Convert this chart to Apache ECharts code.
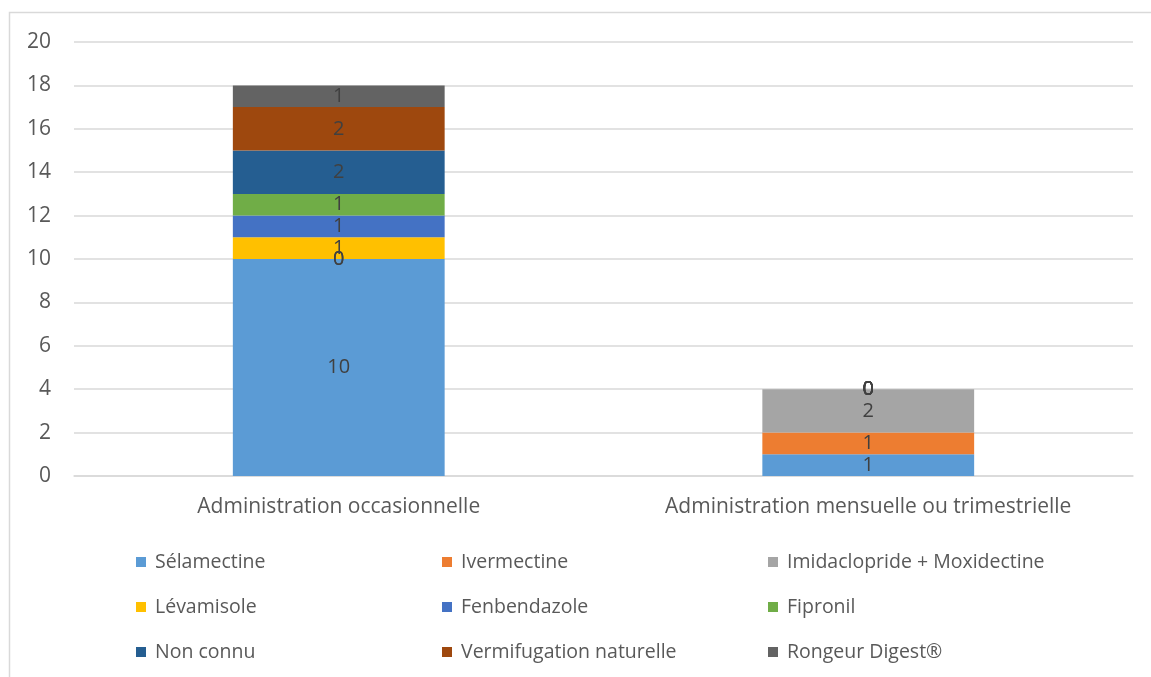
<!DOCTYPE html>
<html>
<head>
<meta charset="utf-8">
<script src="https://cdn.jsdelivr.net/npm/echarts@6/dist/echarts.min.js"></script>
<style>
  html, body { margin: 0; padding: 0; background: #ffffff; }
  #chart { width: 1151px; height: 677px; }
</style>
</head>
<body>
<div id="chart"></div>
<script>
// Categories and per-product counts (stacked bottom to top)
const categories = ['Administration occasionnelle', 'Administration mensuelle ou trimestrielle'];
const seriesNames = [
  'Sélamectine', 'Ivermectine', 'Imidaclopride + Moxidectine',
  'Lévamisole', 'Fenbendazole', 'Fipronil',
  'Non connu', 'Vermifugation naturelle', 'Rongeur Digest®'
];
const selamectine = [10, 1];
const ivermectine = [0, 1];
const imidaclopride = [0, 2];
const levamisole = [1, 0];
const fenbendazole = [1, 0];
const fipronil = [1, 0];
const nonConnu = [2, 0];
const vermifugation = [2, 0];
const rongeur = [1, 0];
const yTicks = [0, 2, 4, 6, 8, 10, 12, 14, 16, 18, 20];

const values = [selamectine, ivermectine, imidaclopride, levamisole, fenbendazole,
                fipronil, nonConnu, vermifugation, rongeur];
const colors = ['#5B9BD5', '#ED7D31', '#A5A5A5', '#FFC000', '#4472C4',
                '#70AD47', '#255E91', '#9E480E', '#636363'];

const font = '"Open Sans", "Noto Sans", sans-serif';

const series = seriesNames.map((name, i) => ({
  name: name,
  type: 'bar',
  stack: 'total',
  barCategoryGap: '60%',
  data: values[i],
  itemStyle: { color: colors[i] },
  label: {
    show: true,
    position: 'inside',
    color: '#404040',
    fontFamily: font,
    fontSize: 20
  },
  emphasis: { disabled: true }
}));

const legendBase = {
  orient: 'vertical',
  top: 547,
  itemWidth: 10,
  itemHeight: 10,
  itemGap: 25,
  icon: 'rect',
  selectedMode: false,
  textStyle: {
    color: '#595959',
    fontFamily: font,
    fontSize: 19.5,
    lineHeight: 20,
    padding: [0, 0, 0, 4]
  }
};

const chart = echarts.init(document.getElementById('chart'), null, { renderer: 'canvas' });
chart.setOption({
  animation: false,
  backgroundColor: '#ffffff',
  color: colors,
  graphic: [{
    type: 'rect',
    shape: { x: 9.5, y: 12.5, width: 1300, height: 800 },
    style: { fill: 'none', stroke: '#D9D9D9', lineWidth: 1.5 },
    silent: true
  }],
  grid: { left: 74, right: 18, top: 42, bottom: 201 },
  legend: [
    Object.assign({}, legendBase, { left: 131, data: [seriesNames[0], seriesNames[3], seriesNames[6]] }),
    Object.assign({}, legendBase, { left: 437, data: [seriesNames[1], seriesNames[4], seriesNames[7]] }),
    Object.assign({}, legendBase, { left: 763, data: [seriesNames[2], seriesNames[5], seriesNames[8]] })
  ],
  xAxis: {
    type: 'category',
    data: categories,
    axisLine: { show: true, lineStyle: { color: '#D9D9D9', width: 1.5 } },
    axisTick: { show: false },
    axisLabel: { color: '#595959', fontFamily: font, fontSize: 21, margin: 21 }
  },
  yAxis: {
    type: 'value',
    min: yTicks[0],
    max: yTicks[yTicks.length - 1],
    interval: 2,
    axisLine: { show: false },
    axisTick: { show: false },
    splitLine: { lineStyle: { color: '#D9D9D9', width: 1.5 } },
    axisLabel: { color: '#595959', fontFamily: font, fontSize: 21, margin: 23 }
  },
  series: series
});
</script>
</body>
</html>
